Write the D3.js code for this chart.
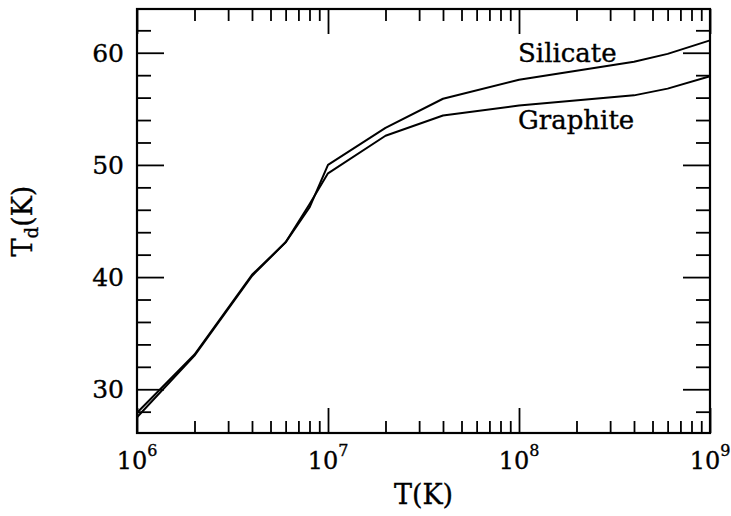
<!DOCTYPE html>
<html>
<head>
<meta charset="utf-8">
<script src="https://cdn.jsdelivr.net/npm/d3@7"></script>
<style>
  html, body { margin: 0; padding: 0; background: #fff; }
  svg { display: block; font-family: "DejaVu Serif", serif; }
  svg text { stroke: #000; stroke-width: 0.35px; fill: #000; }
  .tick text { display: none; }
</style>
</head>
<body>
<div id="chart"></div>
<script>
// gas temperature (K) where the curves have their kinks
const tempK = [1e6, 2e6, 4e6, 6e6, 8e6, 1e7, 2e7, 4e7, 1e8, 4e8, 6e8, 1e9];
// dust temperature (K)
const silicate = [27.9, 33.1, 40.2, 43.1, 46.2, 50.0, 53.3, 55.9, 57.6, 59.2, 59.9, 61.1];
const graphite = [27.5, 33.0, 40.1, 43.1, 46.5, 49.25, 52.6, 54.4, 55.3, 56.2, 56.8, 57.9];
const xMajor = [1e6, 1e7, 1e8, 1e9];
const xExponents = ["6", "7", "8", "9"];
const yMajor = [30, 40, 50, 60];
const yMinor = [28, 32, 34, 36, 38, 42, 44, 46, 48, 52, 54, 56, 58, 62];

(() => {
  const width = 731, height = 516;
  const m = { left: 137, right: 21, top: 9, bottom: 83 };
  const x0 = m.left, x1 = width - m.right, y0 = m.top, y1 = height - m.bottom;

  const svg = d3.select("#chart").append("svg").attr("width", width).attr("height", height);

  const x = d3.scaleLog().domain([1e6, 1e9]).range([x0, x1]);
  const y = d3.scaleLinear().domain([26.1, 63.9]).range([y1, y0]);

  const xMinor = [];
  [1e6, 1e7, 1e8].forEach((d) => { for (let k = 2; k <= 9; k++) xMinor.push(d * k); });

  // ticks point inwards on all four sides
  function addAxis(axis, transform) {
    const g = svg.append("g").attr("transform", transform).call(axis);
    g.select(".domain").remove();
    g.selectAll(".tick line").attr("stroke", "#000").attr("stroke-width", 1.8);
  }
  addAxis(d3.axisBottom(x).tickValues(xMajor).tickSizeInner(-25).tickSizeOuter(0), `translate(0,${y1})`);
  addAxis(d3.axisBottom(x).tickValues(xMinor).tickSizeInner(-12).tickSizeOuter(0), `translate(0,${y1})`);
  addAxis(d3.axisTop(x).tickValues(xMajor).tickSizeInner(-25).tickSizeOuter(0), `translate(0,${y0})`);
  addAxis(d3.axisTop(x).tickValues(xMinor).tickSizeInner(-12).tickSizeOuter(0), `translate(0,${y0})`);
  addAxis(d3.axisLeft(y).tickValues(yMajor).tickSizeInner(-27).tickSizeOuter(0), `translate(${x0},0)`);
  addAxis(d3.axisLeft(y).tickValues(yMinor).tickSizeInner(-14).tickSizeOuter(0), `translate(${x0},0)`);
  addAxis(d3.axisRight(y).tickValues(yMajor).tickSizeInner(-27).tickSizeOuter(0), `translate(${x1},0)`);
  addAxis(d3.axisRight(y).tickValues(yMinor).tickSizeInner(-14).tickSizeOuter(0), `translate(${x1},0)`);

  svg.append("rect").attr("x", x0).attr("y", y0).attr("width", x1 - x0).attr("height", y1 - y0)
    .attr("fill", "none").attr("stroke", "#000").attr("stroke-width", 2.2);

  // tick labels
  const xl = svg.append("g").attr("font-size", 24);
  xMajor.forEach((d, i) => {
    const t = xl.append("text").attr("x", x(d)).attr("y", y1 + 36).attr("text-anchor", "middle");
    t.append("tspan").text("10");
    t.append("tspan").attr("dy", -13).attr("font-size", 16).text(xExponents[i]);
  });
  svg.append("g").attr("font-size", 25).selectAll("text").data(yMajor).enter().append("text")
    .attr("x", x0 - 13).attr("y", (d) => y(d)).attr("dy", "0.36em").attr("text-anchor", "end").text((d) => d);

  // axis titles
  svg.append("text").attr("x", (x0 + x1) / 2).attr("y", 504).attr("text-anchor", "middle")
    .attr("font-size", 27).text("T(K)");
  const yt = svg.append("text").attr("transform", `translate(32,${(y0 + y1) / 2}) rotate(-90)`)
    .attr("text-anchor", "middle").attr("font-size", 27);
  yt.append("tspan").text("T");
  yt.append("tspan").attr("dy", 6).attr("font-size", 18).text("d");
  yt.append("tspan").attr("dy", -6).text("(K)");

  // curves
  const line = d3.line().x((d) => x(d[0])).y((d) => y(d[1]));
  [silicate, graphite].forEach((series) => {
    svg.append("path").datum(tempK.map((t, i) => [t, series[i]]))
      .attr("d", line).attr("fill", "none").attr("stroke", "#000").attr("stroke-width", 2)
      .attr("stroke-linejoin", "round");
  });

  svg.append("text").attr("x", 518).attr("y", 62).attr("font-size", 26).text("Silicate");
  svg.append("text").attr("x", 518).attr("y", 129).attr("font-size", 26).text("Graphite");
})();
</script>
</body>
</html>
